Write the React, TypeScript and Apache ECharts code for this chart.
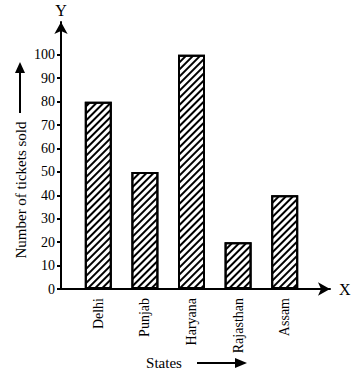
import React, { useEffect, useRef } from "react";
import * as echarts from "echarts";

const states = ["Delhi", "Punjab", "Haryana", "Rajasthan", "Assam"];
const tickets = [80, 50, 100, 20, 40];
const yTicks = [0, 10, 20, 30, 40, 50, 60, 70, 80, 90, 100];
const yTitle = "Number of tickets sold";
const xTitle = "States";

const FONT = "'Liberation Serif', 'DejaVu Serif', serif";

export default function App() {
  const ref = useRef<HTMLDivElement>(null);
  useEffect(() => {
    document.body.style.margin = "0";
    if (!ref.current) return;
    const chart = echarts.init(ref.current, undefined, { renderer: "svg" });
    const Y_MAX = 114;
    chart.setOption({
      animation: false,
      backgroundColor: "#fff",
      textStyle: { fontFamily: FONT, color: "#000" },
      grid: [
        { left: 61, right: 28, top: 22, bottom: 83, containLabel: false },
        { left: 75, right: 50, top: 22, bottom: 83, containLabel: false },
      ],
      xAxis: [
        {
          gridIndex: 0,
          type: "value",
          min: 0,
          max: 1,
          axisLine: {
            show: true,
            symbol: ["none", "arrow"],
            symbolSize: [10, 12],
            lineStyle: { color: "#000", width: 2 },
          },
          axisTick: { show: false },
          axisLabel: { show: false },
          splitLine: { show: false },
          name: "X",
          nameLocation: "end",
          nameGap: 9,
          nameTextStyle: { fontFamily: FONT, fontSize: 16, color: "#000" },
        },
        {
          gridIndex: 1,
          type: "category",
          data: states,
          axisLine: { show: false },
          axisTick: { show: false },
          axisLabel: {
            rotate: 90,
            margin: 9,
            fontFamily: FONT,
            fontSize: 14,
            color: "#000",
            interval: 0,
          },
        },
      ],
      yAxis: [
        {
          gridIndex: 0,
          type: "value",
          min: 0,
          max: Y_MAX,
          interval: 10,
          axisLine: {
            show: true,
            symbol: ["none", "arrow"],
            symbolSize: [10, 12],
            lineStyle: { color: "#000", width: 2 },
          },
          axisTick: {
            show: true,
            length: 4,
            customValues: yTicks,
            lineStyle: { color: "#000", width: 2 },
          },
          axisLabel: {
            customValues: yTicks,
            margin: 6,
            fontFamily: FONT,
            fontSize: 14,
            color: "#000",
          },
          splitLine: { show: false },
          name: "Y",
          nameLocation: "end",
          nameGap: 4,
          nameTextStyle: { fontFamily: FONT, fontSize: 16, color: "#000" },
        },
        {
          gridIndex: 1,
          type: "value",
          min: 0,
          max: Y_MAX,
          show: false,
        },
      ],
      series: [
        {
          type: "bar",
          xAxisIndex: 1,
          yAxisIndex: 1,
          data: tickets,
          barWidth: 27,
          itemStyle: {
            color: "#fff",
            borderColor: "#000",
            borderWidth: 2,
            decal: {
              symbol: "rect",
              symbolSize: 1,
              dashArrayX: [1, 0],
              dashArrayY: [2, 2.5],
              rotation: -Math.PI / 4,
              color: "#000",
              backgroundColor: "#fff",
            },
          },
        },
      ],
      graphic: [
        {
          type: "text",
          x: 21,
          y: 190,
          rotation: Math.PI / 2,
          style: {
            text: yTitle,
            font: `15px ${FONT}`,
            fill: "#000",
            align: "center",
            verticalAlign: "middle",
          },
        },
        {
          type: "line",
          shape: { x1: 20, y1: 113, x2: 20, y2: 72 },
          style: { stroke: "#000", lineWidth: 2 },
        },
        {
          type: "polygon",
          shape: { points: [[20, 62], [15, 73], [25, 73]] },
          style: { fill: "#000" },
        },
        {
          type: "text",
          x: 164,
          y: 363,
          style: {
            text: xTitle,
            font: `15px ${FONT}`,
            fill: "#000",
            align: "center",
            verticalAlign: "middle",
          },
        },
        {
          type: "line",
          shape: { x1: 197, y1: 363, x2: 237, y2: 363 },
          style: { stroke: "#000", lineWidth: 2 },
        },
        {
          type: "polygon",
          shape: { points: [[247, 363], [235, 358], [235, 368]] },
          style: { fill: "#000" },
        },
      ],
    });
    return () => chart.dispose();
  }, []);
  return <div ref={ref} style={{ width: 358, height: 372 }} />;
}
